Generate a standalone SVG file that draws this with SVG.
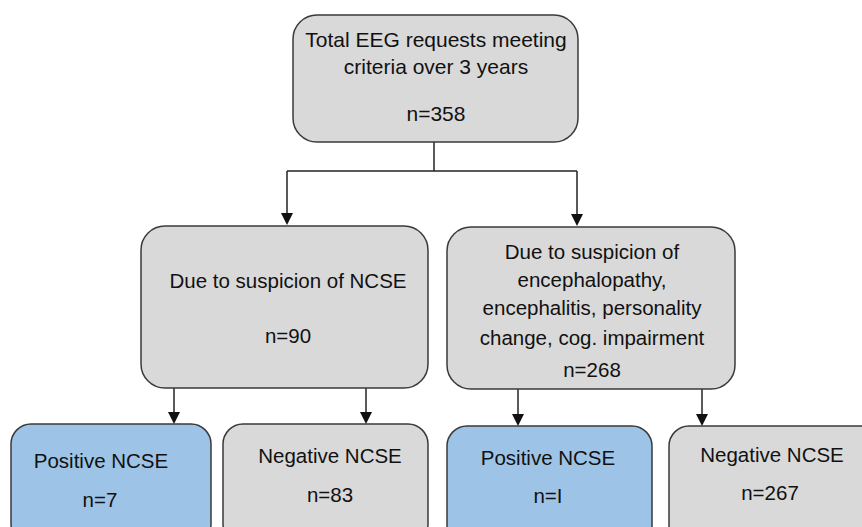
<svg xmlns="http://www.w3.org/2000/svg" width="862" height="527" viewBox="0 0 862 527">
<style>
.box{stroke:#3a3a3a;stroke-width:1.5}
.gray{fill:#d9d9d9}
.blue{fill:#9dc3e6}
text{font-family:"Liberation Sans",Arial,sans-serif;font-size:20.5px;fill:#111;text-anchor:middle}
.ln{stroke:#222;stroke-width:1.5;fill:none}
</style>
<defs>
<marker id="ah" markerWidth="12" markerHeight="12" refX="6" refY="12" orient="auto-start-reverse" markerUnits="userSpaceOnUse" viewBox="0 0 12 12">
<path d="M0,0 L12,0 L6,12 Z" fill="#111"/>
</marker>
</defs>
<rect width="862" height="527" fill="#ffffff"/>
<g id="connectors">
<path class="ln" d="M434,142 V171"/>
<path class="ln" d="M287,171 H577"/>
<path class="ln" d="M287,171 V214"/>
<path class="ln" d="M577,171 V214"/>
<path d="M281,213 L293,213 L287,225 Z" fill="#111"/>
<path d="M571,214 L583,214 L577,226 Z" fill="#111"/>
<path class="ln" d="M174,388 V413"/>
<path d="M168,412 L180,412 L174,424 Z" fill="#111"/>
<path class="ln" d="M366,388 V413"/>
<path d="M360,412 L372,412 L366,424 Z" fill="#111"/>
<path class="ln" d="M518,389 V415"/>
<path d="M512,414 L524,414 L518,426 Z" fill="#111"/>
<path class="ln" d="M702,389 V415"/>
<path d="M696,414 L708,414 L702,426 Z" fill="#111"/>
</g>
<g id="top">
<rect class="box gray" x="293" y="15" width="285" height="127" rx="24"/>
<text x="436" y="47" style="font-size:21px">Total EEG requests meeting</text>
<text x="436" y="74" style="font-size:21px">criteria over 3 years</text>
<text x="436" y="121" style="font-size:21px">n=358</text>
</g>
<g id="mid-left">
<rect class="box gray" x="141" y="226" width="287" height="162" rx="24"/>
<text x="288" y="288">Due to suspicion of NCSE</text>
<text x="288" y="343">n=90</text>
</g>
<g id="mid-right">
<rect class="box gray" x="447" y="227" width="288" height="162" rx="24"/>
<text x="592" y="259">Due to suspicion of</text>
<text x="592" y="287">encephalopathy,</text>
<text x="592" y="315">encephalitis, personality</text>
<text x="592" y="345">change, cog. impairment</text>
<text x="592" y="377">n=268</text>
</g>
<g id="pos-left">
<rect class="box blue" x="11" y="424" width="200" height="120" rx="20"/>
<text x="101" y="468">Positive NCSE</text>
<text x="100" y="507">n=7</text>
</g>
<g id="neg-left">
<rect class="box gray" x="223" y="424" width="205" height="120" rx="20"/>
<text x="330" y="463">Negative NCSE</text>
<text x="330" y="502">n=83</text>
</g>
<g id="pos-right">
<rect class="box blue" x="447" y="426" width="205" height="120" rx="20"/>
<text x="548" y="465">Positive NCSE</text>
<text x="548" y="503">n=I</text>
</g>
<g id="neg-right">
<rect class="box gray" x="669" y="426" width="215" height="120" rx="20"/>
<text x="772" y="462">Negative NCSE</text>
<text x="770" y="500">n=267</text>
</g>
</svg>
